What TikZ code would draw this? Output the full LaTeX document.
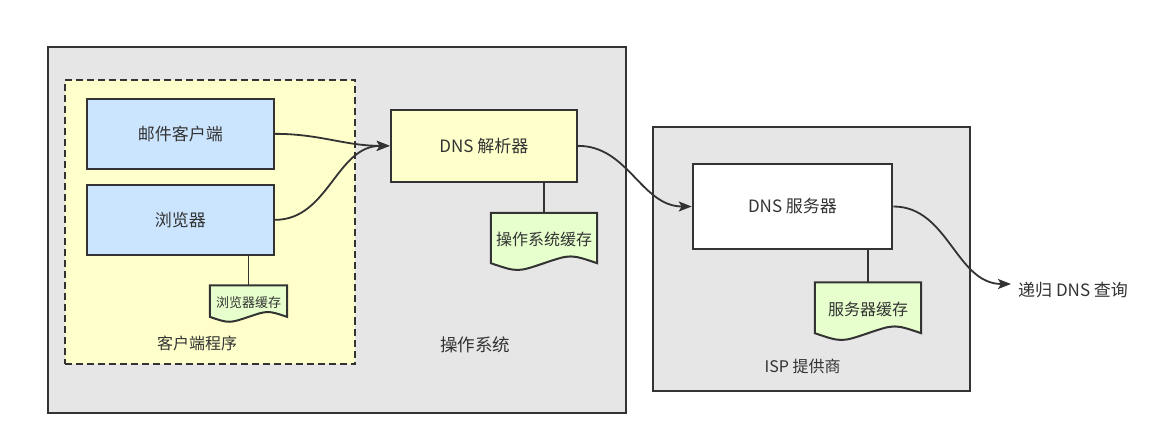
\documentclass[tikz,border=0pt]{standalone}
\usepackage{fontspec}
\setmainfont{Noto Sans CJK SC}
\usetikzlibrary{arrows.meta,calc}
\definecolor{lineC}{HTML}{333333}
\definecolor{grayF}{HTML}{E6E6E6}
\definecolor{yelF}{HTML}{FFFFCC}
\definecolor{bluF}{HTML}{CCE5FF}
\definecolor{grnF}{HTML}{E6FFCC}
\tikzset{
  box/.style={draw=lineC, line width=2pt, inner sep=0pt, text=lineC},
  container/.style={box, fill=grayF},
  clientbox/.style={box, fill=yelF, dash pattern=on 7pt off 4pt},
  bluebox/.style={box, fill=bluF, font=\fontsize{17}{20}\selectfont},
  yelbox/.style={box, fill=yelF, font=\fontsize{17}{20}\selectfont},
  whitebox/.style={box, fill=white, font=\fontsize{17}{20}\selectfont},
  docframe/.style={inner sep=0pt},
  docshape/.style={draw=lineC, line width=2pt, fill=grnF, line join=miter},
  doctext/.style={text=lineC, inner sep=0pt, font=\fontsize{16}{19}\selectfont},
  smalldoctext/.style={doctext, font=\fontsize{13}{16}\selectfont},
  label/.style={text=lineC, inner sep=0pt, font=\fontsize{16}{19}\selectfont},
  biglabel/.style={label, font=\fontsize{17.5}{20}\selectfont},
  conn/.style={draw=lineC, line width=1.8pt, -{Stealth[length=13pt,width=10pt,inset=3pt]}},
  plainline/.style={draw=lineC, line width=1.8pt},
}
\newcommand{\mydoc}[2]{%
  \path[docshape] (#1.north west) -- (#1.north east) -- (#1.south east)
    .. controls ($(#1.south east)!0.25!(#1.south west)+(0,-#2)$) .. (#1.south)
    .. controls ($(#1.south east)!0.75!(#1.south west)+(0,#2)$) .. (#1.south west) -- cycle;}
\begin{document}
\begin{tikzpicture}[x=1pt,y=-1pt]
\useasboundingbox[fill=white] (0,0) rectangle (1170,446);
% containers
\node[container, minimum width=578.5pt, minimum height=365.5pt] (os) at (336.75,230.25) {};
\node[container, minimum width=316.7pt, minimum height=263.7pt] (isp) at (811.65,259.15) {};
\node[clientbox, minimum width=290.5pt, minimum height=284pt] (client) at (209.75,222) {};
% labels
\node[label] (clientlbl) at (197,343) {客户端程序};
\node[biglabel] (oslbl) at (475,345) {操作系统};
\node[label] (isplbl) at (802.7,366.7) {ISP 提供商};
% boxes
\node[bluebox, minimum width=187.3pt, minimum height=69.7pt] (mail) at (180.35,133.85) {邮件客户端};
\node[bluebox, minimum width=187.3pt, minimum height=70.3pt] (browser) at (180.35,219.85) {浏览器};
\node[yelbox, minimum width=186.3pt, minimum height=71.7pt] (res) at (483.85,145.85) {DNS 解析器};
\node[whitebox, minimum width=199.6pt, minimum height=85.6pt] (server) at (792.5,206.5) {DNS 服务器};
% document frames
\node[docframe, minimum width=77pt, minimum height=31pt] (bc) at (248.5,301.2) {};
\node[docframe, minimum width=106pt, minimum height=50pt] (osc) at (544,238) {};
\node[docframe, minimum width=106pt, minimum height=50.3pt] (sc) at (868,307.85) {};
% cache links
\draw[plainline] (bc.north |- browser.south) -- (bc.north);
\draw[plainline] (osc.north |- res.south) -- (osc.north);
\draw[plainline] (sc.north |- server.south) -- (sc.north);
% document shapes
\mydoc{bc}{6.5}
\mydoc{osc}{9}
\mydoc{sc}{9}
\node[smalldoctext] (bctext) at ($(bc.center)+(0,1)$) {浏览器缓存};
\node[doctext] (osctext) at ($(osc.center)+(0,1)$) {操作系统缓存};
\node[doctext] (sctext) at ($(sc.center)+(0,1.5)$) {服务器缓存};
% query label
\node[label, anchor=west, font=\fontsize{17}{20}\selectfont] (query) at (1018,290.5) {递归 DNS 查询};
% connectors
\draw[conn] (mail.east) to[out=0,in=180] (res.west);
\draw[conn] (browser.east) to[out=0,in=180] (res.west);
\draw[conn] (res.east) to[out=0,in=180] (server.west);
\draw[conn] (server.east) to[out=0,in=180] ([xshift=-7pt,yshift=6.5pt]query.west);
\end{tikzpicture}
\end{document}
